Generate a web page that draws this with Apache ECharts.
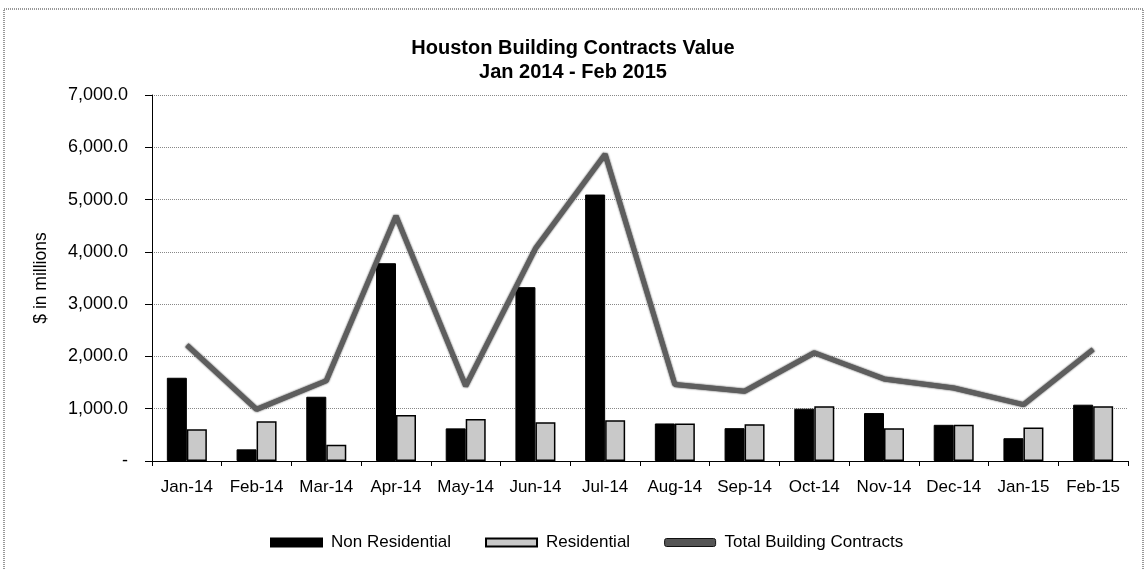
<!DOCTYPE html>
<html>
<head>
<meta charset="UTF-8" />
<script type="text/javascript" src="https://cdn.jsdelivr.net/npm/echarts@6/dist/echarts.min.js"></script>
<title>Houston Building Contracts Value</title>
<style>
	html, body { margin: 0; padding: 0; background: #fff; }
	#main { width: 1146px; height: 569px; }
</style>
</head>
<body>
	<div id="main"></div>
<script type="text/javascript">
	// data ($ in millions)
	var months = ['Jan-14', 'Feb-14', 'Mar-14', 'Apr-14', 'May-14', 'Jun-14', 'Jul-14',
		'Aug-14', 'Sep-14', 'Oct-14', 'Nov-14', 'Dec-14', 'Jan-15', 'Feb-15']
	var nonResidential = [1592, 223, 1229, 3783, 624, 3325, 5096, 718, 628, 1000, 917, 692, 436, 1077]
	var residential = [605, 758, 312, 879, 803, 739, 777, 718, 705, 1045, 628, 692, 641, 1045]
	var totalContracts = [2217, 987, 1535, 4688, 1433, 4064, 5866, 1462, 1333, 2070, 1570, 1397, 1077, 2135]

	var sans = "'Liberation Sans', Arial, sans-serif"

	var myChart = echarts.init(document.getElementById('main'))

	var option = {
		animation : false,
		title : {
			text : 'Houston Building Contracts Value\nJan 2014 - Feb 2015',
			left : 'center',
			top : 31,
			textStyle : {
				fontFamily : sans,
				fontWeight : 'bold',
				fontSize : 20,
				lineHeight : 24,
				color : '#000'
			}
		},
		graphic : [ {
			type : 'rect',
			shape : { x : 4, y : 9, width : 1139, height : 566 },
			style : { fill : 'none', stroke : '#777', lineWidth : 1.5, lineDash : [ 1, 1 ] },
			silent : true
		} ],
		legend : {
			left : 265,
			top : 529,
			itemWidth : 51,
			itemHeight : 8,
			itemGap : 34,
			textStyle : { fontFamily : sans, fontSize : 17, color : '#000', padding : [ 0, 0, 0, 4 ] },
			data : [
				{ name : 'Non Residential', icon : 'rect' },
				{ name : 'Residential', icon : 'rect' },
				{ name : 'Total Building Contracts', icon : 'roundRect', itemStyle : { color : '#555', borderColor : '#111', borderWidth : 1 } }
			]
		},
		grid : {
			left : 152,
			right : 18,
			top : 95,
			bottom : 108
		},
		xAxis : {
			type : 'category',
			data : months,
			axisLine : { lineStyle : { color : '#000', width : 1 } },
			axisTick : { show : true, length : 5, lineStyle : { color : '#000' } },
			axisLabel : { fontFamily : sans, fontSize : 17, color : '#000', margin : 18, interval : 0 }
		},
		yAxis : {
			type : 'value',
			min : 0,
			max : 7000,
			interval : 1000,
			name : '$ in millions',
			nameLocation : 'middle',
			nameGap : 102,
			nameTextStyle : { fontFamily : sans, fontSize : 17.5, color : '#000' },
			axisLine : { show : true, lineStyle : { color : '#000', width : 1 } },
			axisTick : { show : true, length : 7, lineStyle : { color : '#000' } },
			axisLabel : {
				fontFamily : sans,
				fontSize : 18,
				color : '#000',
				margin : 24,
				formatter : function(v) {
					if (v === 0) return '-'
					return v.toLocaleString('en-US', { minimumFractionDigits : 1, maximumFractionDigits : 1 })
				}
			},
			splitLine : { show : true, lineStyle : { color : '#888', type : 'dotted', width : 1 } }
		},
		series : [ {
			name : 'Non Residential',
			type : 'bar',
			data : nonResidential,
			barWidth : 20,
			barGap : '0%',
			itemStyle : { color : '#000', borderColor : '#000', borderWidth : 1 }
		}, {
			name : 'Residential',
			type : 'bar',
			data : residential,
			barWidth : 20,
			itemStyle : { color : '#c9c9c9', borderColor : '#000', borderWidth : 1.5 }
		}, {
			name : 'Total Building Contracts',
			type : 'line',
			data : totalContracts,
			symbol : 'none',
			lineStyle : { color : '#5e5e5e', width : 5, shadowColor : 'rgba(0,0,0,0.9)', shadowBlur : 2 },
			itemStyle : { color : '#555' },
			z : 5
		} ]
	}
	myChart.setOption(option)
</script>
</body>
</html>
